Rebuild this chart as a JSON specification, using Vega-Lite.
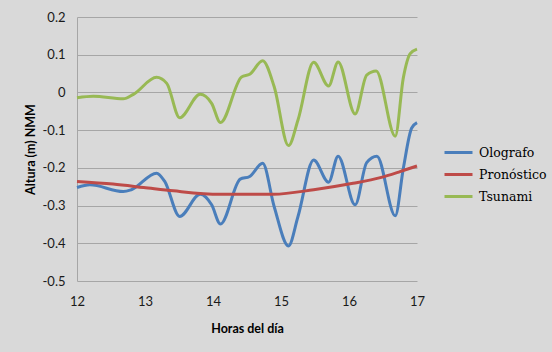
{
  "$schema": "https://vega.github.io/schema/vega-lite/v6.json",
  "width": 340,
  "height": 264,
  "autosize": {"type": "none"},
  "padding": {"left": 77, "top": 17, "right": 135, "bottom": 71},
  "background": "#d9d9d9",
  "config": {
    "view": {"stroke": null}
  },
  "data": {
    "values": [
      {"hora": 12.0, "serie": "Olografo", "valor": -0.252},
      {"hora": 12.19, "serie": "Olografo", "valor": -0.245},
      {"hora": 12.68, "serie": "Olografo", "valor": -0.263},
      {"hora": 12.8, "serie": "Olografo", "valor": -0.258},
      {"hora": 13.17, "serie": "Olografo", "valor": -0.214},
      {"hora": 13.29, "serie": "Olografo", "valor": -0.236},
      {"hora": 13.51, "serie": "Olografo", "valor": -0.329},
      {"hora": 13.81, "serie": "Olografo", "valor": -0.27},
      {"hora": 13.98, "serie": "Olografo", "valor": -0.298},
      {"hora": 14.11, "serie": "Olografo", "valor": -0.349},
      {"hora": 14.4, "serie": "Olografo", "valor": -0.23},
      {"hora": 14.54, "serie": "Olografo", "valor": -0.223},
      {"hora": 14.73, "serie": "Olografo", "valor": -0.188},
      {"hora": 14.9, "serie": "Olografo", "valor": -0.303},
      {"hora": 15.11, "serie": "Olografo", "valor": -0.407},
      {"hora": 15.25, "serie": "Olografo", "valor": -0.329},
      {"hora": 15.48, "serie": "Olografo", "valor": -0.179},
      {"hora": 15.7, "serie": "Olografo", "valor": -0.238},
      {"hora": 15.84, "serie": "Olografo", "valor": -0.169},
      {"hora": 16.09, "serie": "Olografo", "valor": -0.298},
      {"hora": 16.26, "serie": "Olografo", "valor": -0.186},
      {"hora": 16.41, "serie": "Olografo", "valor": -0.169},
      {"hora": 16.68, "serie": "Olografo", "valor": -0.327},
      {"hora": 16.8, "serie": "Olografo", "valor": -0.2},
      {"hora": 16.92, "serie": "Olografo", "valor": -0.095},
      {"hora": 17.0, "serie": "Olografo", "valor": -0.08},
      {"hora": 12.0, "serie": "Pronóstico", "valor": -0.236},
      {"hora": 12.53, "serie": "Pronóstico", "valor": -0.243},
      {"hora": 12.98, "serie": "Pronóstico", "valor": -0.252},
      {"hora": 13.42, "serie": "Pronóstico", "valor": -0.261},
      {"hora": 14.1, "serie": "Pronóstico", "valor": -0.27},
      {"hora": 14.89, "serie": "Pronóstico", "valor": -0.27},
      {"hora": 15.48, "serie": "Pronóstico", "valor": -0.258},
      {"hora": 16.06, "serie": "Pronóstico", "valor": -0.241},
      {"hora": 16.46, "serie": "Pronóstico", "valor": -0.226},
      {"hora": 16.75, "serie": "Pronóstico", "valor": -0.21},
      {"hora": 17.0, "serie": "Pronóstico", "valor": -0.195},
      {"hora": 12.0, "serie": "Tsunami", "valor": -0.014},
      {"hora": 12.24, "serie": "Tsunami", "valor": -0.01},
      {"hora": 12.68, "serie": "Tsunami", "valor": -0.017},
      {"hora": 12.83, "serie": "Tsunami", "valor": -0.005},
      {"hora": 13.17, "serie": "Tsunami", "valor": 0.04},
      {"hora": 13.32, "serie": "Tsunami", "valor": 0.024},
      {"hora": 13.51, "serie": "Tsunami", "valor": -0.067},
      {"hora": 13.81, "serie": "Tsunami", "valor": -0.005},
      {"hora": 13.98, "serie": "Tsunami", "valor": -0.029},
      {"hora": 14.11, "serie": "Tsunami", "valor": -0.08},
      {"hora": 14.42, "serie": "Tsunami", "valor": 0.041},
      {"hora": 14.54, "serie": "Tsunami", "valor": 0.048},
      {"hora": 14.73, "serie": "Tsunami", "valor": 0.084},
      {"hora": 14.9, "serie": "Tsunami", "valor": 0.015},
      {"hora": 15.11, "serie": "Tsunami", "valor": -0.141},
      {"hora": 15.25, "serie": "Tsunami", "valor": -0.073},
      {"hora": 15.48, "serie": "Tsunami", "valor": 0.08},
      {"hora": 15.7, "serie": "Tsunami", "valor": 0.017},
      {"hora": 15.84, "serie": "Tsunami", "valor": 0.081},
      {"hora": 16.09, "serie": "Tsunami", "valor": -0.057},
      {"hora": 16.26, "serie": "Tsunami", "valor": 0.046},
      {"hora": 16.4, "serie": "Tsunami", "valor": 0.057},
      {"hora": 16.68, "serie": "Tsunami", "valor": -0.116},
      {"hora": 16.8, "serie": "Tsunami", "valor": 0.04},
      {"hora": 16.9, "serie": "Tsunami", "valor": 0.103},
      {"hora": 17.0, "serie": "Tsunami", "valor": 0.115}
    ]
  },
  "mark": {"type": "line", "interpolate": "monotone", "strokeWidth": 3},
  "encoding": {
    "x": {
      "field": "hora",
      "type": "quantitative",
      "scale": {"domain": [12, 17], "nice": false},
      "axis": {
        "title": "Horas del día",
        "values": [12, 13, 14, 15, 16, 17],
        "grid": false,
        "domain": false,
        "ticks": false,
        "labelFlush": false,
        "labelPadding": 14,
        "labelFontSize": 13,
        "labelColor": "#1a1a1a",
        "labelFont": "Lato",
        "titleFont": "Lato",
        "titleFontSize": 12.5,
        "titleFontWeight": "bold",
        "titleColor": "#000000",
        "titlePadding": 14
      }
    },
    "y": {
      "field": "valor",
      "type": "quantitative",
      "scale": {"domain": [-0.5, 0.2], "nice": false, "zero": false},
      "axis": {
        "title": "Altura (m) NMM",
        "values": [-0.5, -0.4, -0.3, -0.2, -0.1, 0, 0.1, 0.2],
        "labelExpr": "datum.value == 0 ? '0' : toString(round(datum.value * 10) / 10)",
        "grid": true,
        "gridColor": "#a6a6a6",
        "gridWidth": 1,
        "domain": true,
        "domainColor": "#a6a6a6",
        "ticks": false,
        "labelPadding": 12,
        "labelFontSize": 13,
        "labelColor": "#1a1a1a",
        "labelFont": "Lato",
        "titleFont": "Lato",
        "titleFontSize": 12.5,
        "titleFontWeight": "bold",
        "titleColor": "#000000",
        "titlePadding": 5
      }
    },
    "color": {
      "field": "serie",
      "type": "nominal",
      "scale": {
        "domain": ["Olografo", "Pronóstico", "Tsunami"],
        "range": ["#4a7ebb", "#be4b48", "#98b954"]
      },
      "legend": {
        "title": null,
        "orient": "none",
        "legendX": 366,
        "legendY": 120,
        "symbolType": "stroke",
        "symbolSize": 784,
        "symbolStrokeWidth": 3,
        "labelFont": "DejaVu Serif",
        "labelFontSize": 12.5,
        "labelColor": "#000000",
        "labelLimit": 200,
        "rowPadding": -4,
        "labelOffset": 5
      }
    }
  }
}
